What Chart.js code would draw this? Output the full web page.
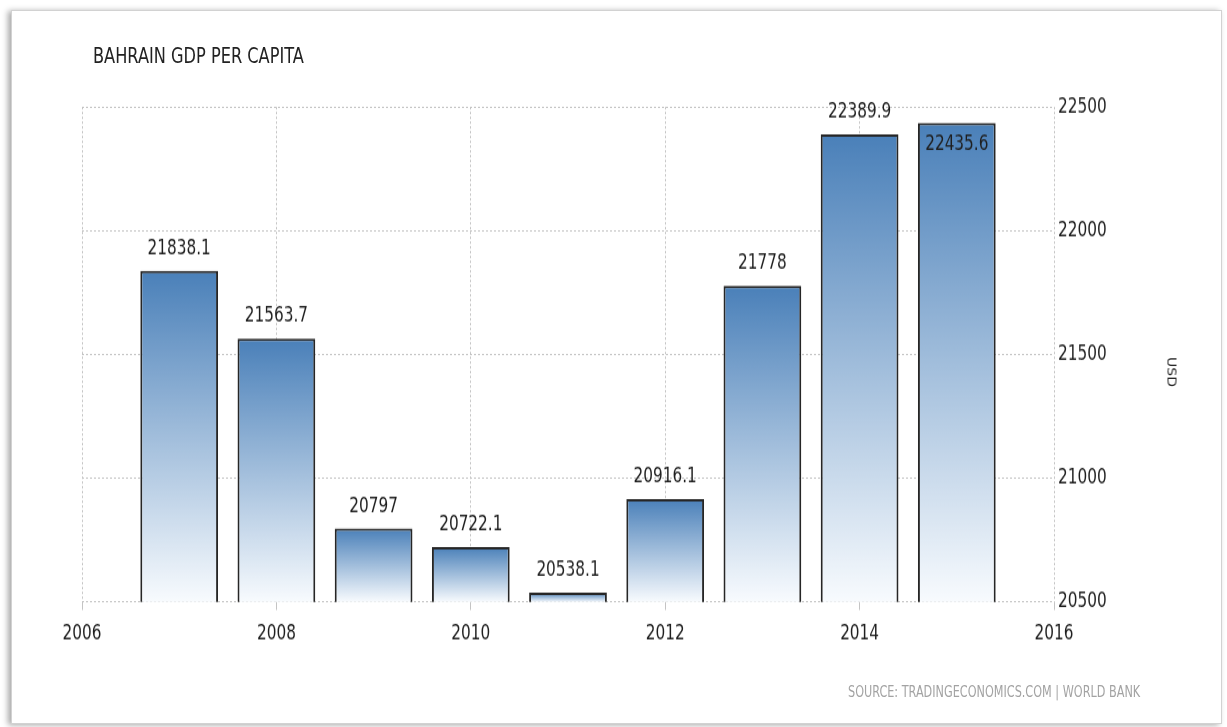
<!DOCTYPE html>
<html>
<head>
<meta charset="utf-8">
<title>Bahrain GDP per capita</title>
<script src="https://cdn.jsdelivr.net/npm/chart.js@4.4.1/dist/chart.umd.min.js"></script>
<style>
  html, body { margin: 0; padding: 0; background: #fff; width: 1227px; height: 727px; overflow: hidden; }
  #frame {
    position: absolute; left: 11px; top: 10px; width: 1209px; height: 712px;
    border: 1px solid #d2d2d2; background: #fff;
    box-shadow: -3px 1px 6px rgba(0, 0, 0, 0.35);
  }
  /* the chart is laid out on a shorter canvas and stretched to full height */
  #stage { position: absolute; left: 0; top: 0; width: 1227px; height: 606px;
           transform-origin: 0 0; transform: scaleY(1.19967); }
  #chart { display: block; }
  .txt { position: absolute; font-family: "DejaVu Sans Condensed", "DejaVu Sans", sans-serif; font-stretch: condensed; white-space: nowrap; }
  #title { left: 93px; top: 46px; font-size: 18px; line-height: 20px; color: #222;
           transform-origin: 0 50%; transform: scaleY(1.2); }
  #source { left: 848px; top: 685px; font-size: 12.5px; line-height: 14px; color: #a3a3a3;
            transform-origin: 0 50%; transform: scaleY(1.2); }
  #unit { left: 1172px; top: 372px; font-size: 13px; line-height: 15px; color: #2a2a2a;
          transform: translate(-50%, -50%) scaleY(1.2) rotate(90deg); }
</style>
</head>
<body>
<div id="frame"></div>
<div id="stage"><canvas id="chart" width="1227" height="606"></canvas></div>
<div class="txt" id="title">BAHRAIN GDP PER CAPITA</div>
<div class="txt" id="unit">USD</div>
<div class="txt" id="source">SOURCE: TRADINGECONOMICS.COM | WORLD BANK</div>
<script>
// Annual GDP per capita, USD
const years = [2007, 2008, 2009, 2010, 2011, 2012, 2013, 2014, 2015];
const gdpPerCapita = [21838.1, 21563.7, 20797, 20722.1, 20538.1, 20916.1, 21778, 22389.9, 22435.6];
const yearTicks = [2006, 2008, 2010, 2012, 2014, 2016];
const valueTicks = [20500, 21000, 21500, 22000, 22500];

const FONT = '"DejaVu Sans Condensed", "DejaVu Sans", sans-serif';
const TEXT = '#1f1f1f';
const GRID = '#c4c4c4';
const CANVAS_H = 606;

// vertical blue-to-white fill spanning each bar from its top to the baseline
function barFill(ctx) {
  const chart = ctx.chart;
  const y = chart.scales.y;
  if (!chart.chartArea || !y || ctx.type !== 'data') return '#6f9ccb';
  const top = y.getPixelForValue(gdpPerCapita[ctx.dataIndex]);
  const bottom = y.getPixelForValue(y.min);
  if (!isFinite(top) || !isFinite(bottom) || bottom - top < 0.5) return '#a6c3e0';
  const g = chart.ctx.createLinearGradient(0, top, 0, bottom);
  g.addColorStop(0, '#4a80b9');
  g.addColorStop(1, '#f8fbfe');
  return g;
}

// value labels above the bars; a label that would leave the plot goes inside its bar
const valueLabels = {
  id: 'valueLabels',
  afterDatasetsDraw(chart) {
    const ctx = chart.ctx;
    const area = chart.chartArea;
    const meta = chart.getDatasetMeta(0);
    ctx.save();
    ctx.font = '17px ' + FONT;
    ctx.fillStyle = TEXT;
    ctx.textAlign = 'center';
    ctx.textBaseline = 'middle';
    meta.data.forEach((bar, i) => {
      let yPos = bar.y - 18.3;
      if (yPos < area.top) yPos = bar.y + 18.5;
      ctx.fillText(String(gdpPerCapita[i]), bar.x, yPos);
    });
    ctx.restore();
  }
};

new Chart(document.getElementById('chart'), {
  type: 'bar',
  data: {
    datasets: [{
      data: years.map((yr, i) => ({ x: yr, y: gdpPerCapita[i] })),
      backgroundColor: barFill,
      borderColor: '#262626',
      borderWidth: 2,
      borderSkipped: false,
      barPercentage: 0.8,
      categoryPercentage: 1
    }]
  },
  options: {
    responsive: false,
    animation: false,
    events: [],
    layout: { padding: { left: 82, top: 89.2, right: 0, bottom: 0 } },
    plugins: { legend: { display: false }, tooltip: { enabled: false }, title: { display: false } },
    scales: {
      x: {
        type: 'linear',
        min: 2006,
        max: 2016,
        offset: false,
        afterBuildTicks(scale) { scale.ticks = yearTicks.map(v => ({ value: v })); },
        afterFit(scale) { scale.height = CANVAS_H - 501.8; },
        ticks: {
          autoSkip: false, maxRotation: 0, padding: 10,
          color: TEXT, font: { family: FONT, size: 17 },
          callback: v => String(v)
        },
        grid: { offset: false, color: GRID, lineWidth: 1, tickLength: 6.7, tickColor: GRID },
        border: { display: false, dash: [2, 2] }
      },
      y: {
        position: 'right',
        min: 20500,
        max: 22500,
        afterBuildTicks(scale) { scale.ticks = valueTicks.map(v => ({ value: v })); },
        afterFit(scale) { scale.width = 1227 - 1054; },
        ticks: {
          padding: 4, crossAlign: 'near',
          color: TEXT, font: { family: FONT, size: 17 },
          callback: v => String(v)
        },
        grid: { color: GRID, lineWidth: 1, drawTicks: false },
        border: { display: false, dash: [2, 2] }
      }
    }
  },
  plugins: [valueLabels]
});
</script>
</body>
</html>
